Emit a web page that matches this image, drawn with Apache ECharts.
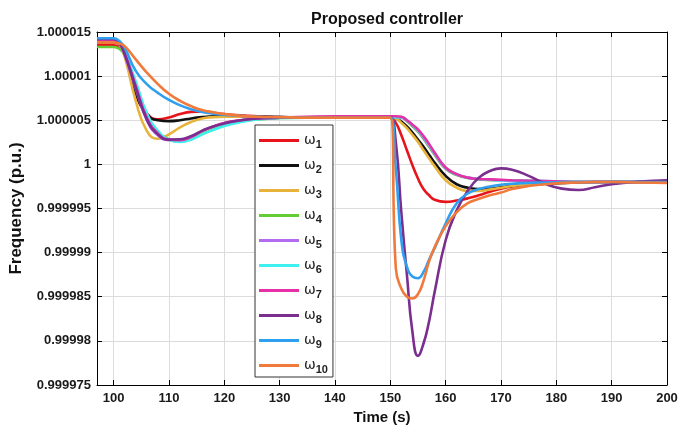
<!DOCTYPE html>
<html>
<head>
<meta charset="utf-8">
<script src="https://cdn.jsdelivr.net/npm/echarts@6/dist/echarts.min.js"></script>
<style>html,body{margin:0;padding:0;background:#fff}#c{width:681px;height:430px}</style>
</head>
<body>
<div id="c"></div>
<script>
const time = [97, 100, 101, 102, 104, 106, 108, 110, 112, 114, 116, 118, 120, 123, 126, 130, 135, 140, 145, 149, 150, 151, 152, 153, 154, 155, 156, 157, 158, 160, 162, 164, 166, 168, 170, 172, 175, 178, 181, 184, 187, 190, 195, 200];
const xTicks = [100, 110, 120, 130, 140, 150, 160, 170, 180, 190, 200];
const seriesNames = ['ω1','ω2','ω3','ω4','ω5','ω6','ω7','ω8','ω9','ω10'];
const w1 = [1.0000135, 1.0000135, 1.0000133, 1.0000124, 1.000008, 1.0000058, 1.0000051, 1.0000053, 1.0000057, 1.00000595, 1.000006, 1.00000585, 1.0000057, 1.00000555, 1.00000545, 1.00000535, 1.0000053, 1.0000053, 1.0000053, 1.0000053, 1.0000053, 1.0000047, 1.0000033, 1.0000016, 0.9999999, 0.9999984, 0.9999972, 0.9999965, 0.999996, 0.99999575, 0.9999959, 0.99999615, 0.9999965, 0.9999969, 0.99999725, 0.9999975, 0.9999977, 0.99999785, 0.9999979, 0.99999795, 0.999998, 0.999998, 0.999998, 0.999998];
const w2 = [1.0000142, 1.0000141, 1.0000136, 1.0000125, 1.0000081, 1.0000057, 1.000005, 1.0000049, 1.000005, 1.0000052, 1.00000535, 1.00000545, 1.00000545, 1.0000054, 1.0000054, 1.00000535, 1.0000053, 1.0000053, 1.0000053, 1.0000053, 1.0000053, 1.0000052, 1.00000485, 1.0000043, 1.0000036, 1.0000028, 1.000002, 1.0000011, 1.0000002, 0.9999987, 0.99999775, 0.99999735, 0.9999972, 0.99999725, 0.9999974, 0.99999755, 0.9999977, 0.9999978, 0.9999979, 0.99999795, 0.999998, 0.999998, 0.999998, 0.999998];
const w3 = [1.000014, 1.000014, 1.0000136, 1.0000122, 1.0000072, 1.0000038, 1.0000029, 1.0000034, 1.0000042, 1.0000048, 1.0000052, 1.00000535, 1.0000054, 1.0000054, 1.00000535, 1.0000053, 1.0000053, 1.0000053, 1.0000053, 1.0000053, 1.0000053, 1.0000052, 1.0000047, 1.0000041, 1.00000335, 1.00000255, 1.0000016, 1.0000007, 0.9999998, 0.9999982, 0.99999735, 0.999997, 0.999997, 0.99999715, 0.99999735, 0.99999755, 0.99999775, 0.99999785, 0.99999795, 0.999998, 0.999998, 0.999998, 0.999998, 0.999998];
const w4 = [1.0000133, 1.0000133, 1.0000131, 1.0000124, 1.0000092, 1.0000057, 1.0000037, 1.00000285, 1.0000026, 1.00000285, 1.00000345, 1.00000395, 1.0000044, 1.00000485, 1.0000051, 1.00000525, 1.0000053, 1.0000053, 1.0000053, 1.0000053, 1.0000053, 1.0000053, 1.0000053, 1.0000049, 1.0000043, 1.0000037, 1.0000029, 1.000002, 1.0000011, 0.9999995, 0.9999988, 0.99999845, 0.9999983, 0.9999982, 0.9999982, 0.99999815, 0.9999981, 0.99999805, 0.999998, 0.999998, 0.999998, 0.999998, 0.999998, 0.999998];
const w5 = [1.0000143, 1.0000142, 1.0000138, 1.0000124, 1.0000086, 1.000005, 1.0000033, 1.00000275, 1.0000028, 1.0000032, 1.0000038, 1.0000043, 1.00000465, 1.000005, 1.0000052, 1.0000053, 1.0000053, 1.0000053, 1.0000053, 1.00000535, 1.00000535, 1.00000535, 1.0000053, 1.00000495, 1.0000044, 1.0000038, 1.000003, 1.0000021, 1.0000012, 0.99999955, 0.99999885, 0.9999985, 0.99999835, 0.99999825, 0.9999982, 0.99999815, 0.9999981, 0.99999805, 0.999998, 0.999998, 0.999998, 0.999998, 0.999998, 0.999998];
const w6 = [1.0000142, 1.0000142, 1.0000139, 1.0000128, 1.0000094, 1.0000058, 1.0000038, 1.0000028, 1.00000255, 1.0000028, 1.0000034, 1.0000039, 1.00000435, 1.0000048, 1.0000051, 1.00000525, 1.0000053, 1.0000053, 1.0000053, 1.00000535, 1.00000535, 1.00000535, 1.00000535, 1.000005, 1.00000445, 1.00000385, 1.0000031, 1.0000022, 1.0000013, 0.9999996, 0.9999989, 0.9999985, 0.99999835, 0.99999825, 0.9999982, 0.9999982, 0.99999815, 0.9999981, 0.99999805, 0.999998, 0.999998, 0.999998, 0.999998, 0.999998];
const w7 = [1.0000141, 1.0000141, 1.0000137, 1.0000126, 1.0000089, 1.0000053, 1.0000035, 1.0000028, 1.00000275, 1.0000031, 1.0000038, 1.0000043, 1.0000047, 1.000005, 1.0000052, 1.0000053, 1.0000054, 1.00000545, 1.00000545, 1.00000545, 1.00000545, 1.00000545, 1.0000054, 1.000005, 1.0000045, 1.00000395, 1.0000032, 1.0000023, 1.00000135, 0.99999965, 0.9999989, 0.9999985, 0.99999835, 0.9999983, 0.99999825, 0.9999982, 0.99999815, 0.9999981, 0.99999805, 0.999998, 0.999998, 0.999998, 0.999998, 0.999998];
const w8 = [1.0000142, 1.0000142, 1.0000138, 1.0000125, 1.0000087, 1.0000051, 1.0000034, 1.0000028, 1.00000285, 1.0000032, 1.0000038, 1.0000043, 1.00000465, 1.000005, 1.0000052, 1.0000053, 1.0000053, 1.0000053, 1.0000053, 1.0000053, 1.0000053, 1.0000025, 0.9999945, 0.9999875, 0.999981, 0.9999783, 0.9999797, 0.9999822, 0.9999855, 0.9999914, 0.9999948, 0.999997, 0.9999985, 0.99999925, 0.99999955, 0.9999994, 0.9999987, 0.9999978, 0.99999725, 0.9999971, 0.9999974, 0.99999775, 0.99999805, 0.9999982];
const w9 = [1.0000143, 1.0000143, 1.000014, 1.0000132, 1.0000106, 1.0000091, 1.0000081, 1.0000073, 1.0000067, 1.00000625, 1.00000595, 1.00000575, 1.0000056, 1.0000055, 1.0000054, 1.00000535, 1.0000053, 1.0000053, 1.0000053, 1.0000053, 1.0000053, 0.9999995, 0.9999914, 0.9999884, 0.9999873, 0.9999871, 0.9999878, 0.9999892, 0.9999905, 0.9999933, 0.9999956, 0.9999967, 0.9999972, 0.9999975, 0.9999977, 0.9999978, 0.9999979, 0.99999795, 0.999998, 0.999998, 0.999998, 0.999998, 0.999998, 0.999998];
const w10 = [1.0000138, 1.0000138, 1.0000137, 1.0000134, 1.0000119, 1.0000104, 1.0000091, 1.000008, 1.0000072, 1.0000066, 1.00000615, 1.0000059, 1.0000057, 1.0000055, 1.0000054, 1.00000535, 1.0000053, 1.0000053, 1.0000053, 1.0000053, 1.0000053, 0.9999882, 0.9999859, 0.999985, 0.9999848, 0.9999853, 0.9999868, 0.999989, 0.9999906, 0.999993, 0.9999946, 0.9999956, 0.9999961, 0.9999965, 0.9999968, 0.9999972, 0.99999755, 0.99999775, 0.9999979, 0.99999795, 0.999998, 0.999998, 0.99999795, 0.9999979];
const allSeries = [w1, w2, w3, w4, w5, w6, w7, w8, w9, w10];
const colors = ['#e8141c', '#111111', '#e8b33b', '#66cc33', '#b36cf0', '#3ef0f0', '#e630a8', '#7a2e8e', '#2f9ff0', '#f07a3c'];

const chart = echarts.init(document.getElementById('c'), null, {renderer: 'canvas'});
const labelFont = {fontFamily: 'Liberation Sans, Arial, sans-serif', fontWeight: 'bold', fontSize: 13, color: '#1a1a1a'};
const fmtY = v => parseFloat(Number(v).toFixed(6)).toString();

const option = {
  animation: false,
  backgroundColor: '#fff',
  color: colors,
  title: {
    text: 'Proposed controller',
    left: 382, top: 7, textAlign: 'center',
    textStyle: {fontFamily: 'Liberation Sans, Arial, sans-serif', fontWeight: 'bold', fontSize: 16, color: '#111'}
  },
  grid: {left: 97, right: 14, top: 32, bottom: 45, containLabel: false},
  legend: {
    orient: 'vertical',
    left: 255, top: 125,
    data: seriesNames,
    icon: 'rect',
    itemWidth: 40, itemHeight: 3,
    itemGap: 6,
    padding: [6, 5, 2, 4],
    backgroundColor: '#fff',
    borderColor: '#333', borderWidth: 1, borderRadius: 0,
    formatter: name => '{w|ω}{s|' + name.slice(1) + '}',
    textStyle: {
      rich: {
        w: {fontFamily: 'DejaVu Sans, sans-serif', fontSize: 14, lineHeight: 14, color: '#222'},
        s: {fontFamily: 'Liberation Sans, Arial, sans-serif', fontWeight: 'bold', fontSize: 11, lineHeight: 11, padding: [8, 0, 0, 0], color: '#222'}
      }
    }
  },
  xAxis: [{
    type: 'value', min: 97, max: 200, position: 'bottom',
    name: 'Time (s)', nameLocation: 'middle', nameGap: 21,
    nameTextStyle: {fontFamily: 'Liberation Sans, Arial, sans-serif', fontWeight: 'bold', fontSize: 15, color: '#111'},
    axisLine: {onZero: false, lineStyle: {color: '#000', width: 1}},
    axisTick: {inside: true, length: 5, customValues: xTicks, lineStyle: {color: '#000'}},
    axisLabel: Object.assign({customValues: xTicks, margin: 7}, labelFont),
    splitLine: {show: true, lineStyle: {color: '#dcdcdc', width: 1}}
  }, {
    type: 'value', min: 97, max: 200, position: 'top',
    axisLine: {onZero: false, lineStyle: {color: '#000', width: 1}},
    axisTick: {inside: true, length: 5, customValues: xTicks, lineStyle: {color: '#000'}},
    axisLabel: {show: false, customValues: xTicks},
    splitLine: {show: false}
  }],
  yAxis: [{
    type: 'value', min: 0.999975, max: 1.000015, interval: 0.000005, position: 'left',
    name: 'Frequency (p.u.)', nameLocation: 'middle', nameGap: 72, nameRotate: 90,
    nameTextStyle: {fontFamily: 'Liberation Sans, Arial, sans-serif', fontWeight: 'bold', fontSize: 17, color: '#111'},
    axisLine: {show: true, onZero: false, lineStyle: {color: '#000', width: 1}},
    axisTick: {show: true, inside: true, length: 5, lineStyle: {color: '#000'}},
    axisLabel: Object.assign({formatter: fmtY, margin: 6}, labelFont),
    splitLine: {show: true, lineStyle: {color: '#dcdcdc', width: 1}}
  }, {
    type: 'value', min: 0.999975, max: 1.000015, interval: 0.000005, position: 'right',
    axisLine: {show: true, onZero: false, lineStyle: {color: '#000', width: 1}},
    axisTick: {show: true, inside: true, length: 5, lineStyle: {color: '#000'}},
    axisLabel: {show: false},
    splitLine: {show: false}
  }],
  series: allSeries.map((vals, i) => ({
    name: seriesNames[i],
    type: 'line',
    xAxisIndex: 0, yAxisIndex: 0,
    smooth: 0.5,
    showSymbol: false,
    symbol: 'none',
    lineStyle: {width: 2.6, color: colors[i]},
    itemStyle: {color: colors[i]},
    data: time.map((t, k) => [t, vals[k]])
  }))
};
chart.setOption(option);
</script>
</body>
</html>
